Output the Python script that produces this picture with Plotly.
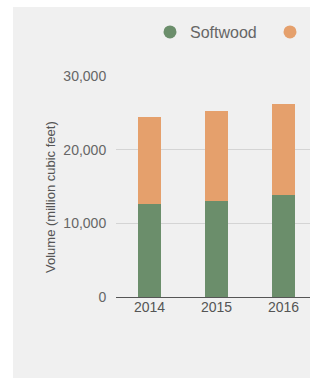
import plotly.graph_objects as go

years = ["2014", "2015", "2016"]
softwood = [12600, 13100, 13800]
hardwood = [11900, 12100, 12400]
series_names = ["Softwood", "Hardwood"]
colors = ["#6b8e6b", "#e5a06c"]
y_ticks = [0, 10000, 20000, 30000]

W, H = 480, 378
ml, mt = 116, 76
mb = H - 297
n_slots = 5
step = 67
plot_w = n_slots * step
mr = W - ml - plot_w
plot_h = H - mt - mb

def px_to_paper_x(px):
    return (px - ml) / plot_w

def px_to_paper_y(py):
    return (H - mb - py) / plot_h

fig = go.Figure()
for name, vals, c in zip(series_names, [softwood, hardwood], colors):
    fig.add_trace(go.Bar(x=years, y=vals, name=name, marker=dict(color=c, line=dict(width=0)),
                         showlegend=False))
for name, c in zip(series_names, colors):
    fig.add_trace(go.Scatter(x=[None], y=[None], mode="markers", name=name,
                             marker=dict(symbol="circle", size=13, color=c)))

fig.add_shape(type="rect", xref="paper", yref="paper",
              x0=px_to_paper_x(13), x1=px_to_paper_x(W + 40),
              y0=px_to_paper_y(H + 40), y1=px_to_paper_y(7),
              fillcolor="#f0f0f0", line=dict(width=0), layer="below")

fig.add_annotation(text="Volume (million cubic feet)", textangle=-90,
                   xref="paper", yref="paper", x=px_to_paper_x(50), y=px_to_paper_y(197),
                   xanchor="center", yanchor="middle", showarrow=False,
                   font=dict(family="Arial, Liberation Sans", size=13, color="#555"))

fig.update_layout(
    width=W, height=H,
    margin=dict(l=ml, r=mr, t=mt, b=mb, pad=0),
    paper_bgcolor="white", plot_bgcolor="rgba(0,0,0,0)",
    barmode="stack", bargap=0.65,
    font=dict(family="Arial, Liberation Sans", size=14, color="#666"),
    legend=dict(orientation="h", traceorder="normal", x=px_to_paper_x(150), xanchor="left",
                y=px_to_paper_y(32), yanchor="middle", entrywidth=75, entrywidthmode="pixels",
                font=dict(size=16, color="#666"), bgcolor="rgba(0,0,0,0)"),
    xaxis=dict(type="category", range=[-0.5, n_slots - 0.5], showgrid=False,
               showline=False, ticks="", tickfont=dict(size=14, color="#555")),
    yaxis=dict(range=[0, 30000], tickvals=y_ticks, tickformat=",",
               showgrid=True, gridcolor="#d4d4d4", gridwidth=1,
               zeroline=True, zerolinecolor="#555", zerolinewidth=1,
               ticks="outside", ticklen=6, tickcolor="rgba(0,0,0,0)",
               tickfont=dict(size=14, color="#666")),
)

fig.write_html(
    "out.html",
    config={"displayModeBar": False},
    post_script=(
        "document.body.style.margin='0';"
        "document.body.style.overflow='hidden';"
        "document.documentElement.style.overflow='hidden';"
        "document.documentElement.style.background='#f0f0f0';"
    ),
)
